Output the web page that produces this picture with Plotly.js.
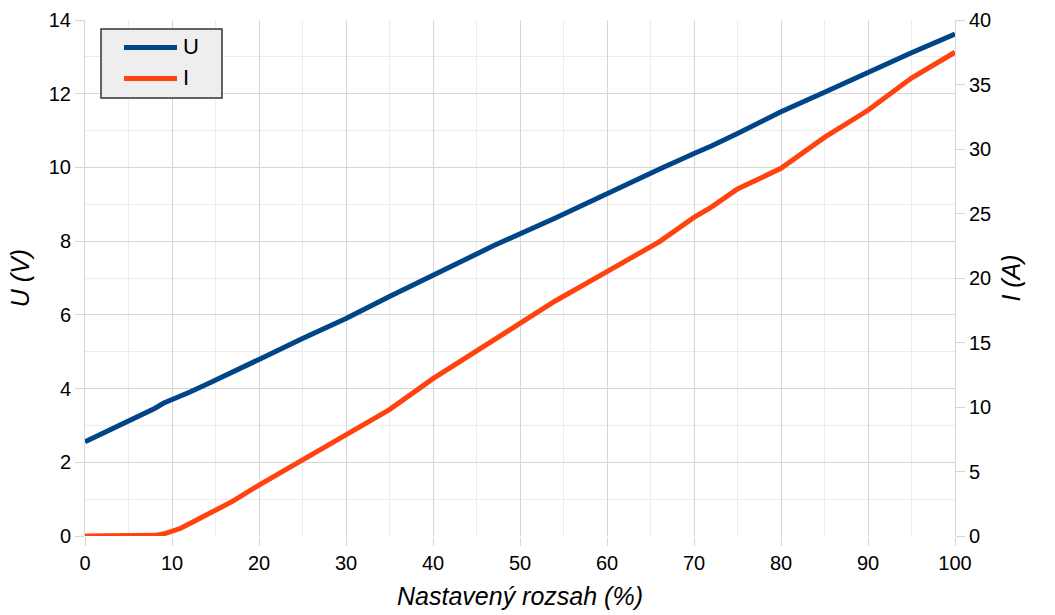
<!DOCTYPE html>
<html>
<head>
<meta charset="utf-8">
<script src="https://cdn.plot.ly/plotly-3.0.1.min.js"></script>
<style>
html,body{margin:0;padding:0;background:#fff;}
#chart{width:1055px;height:615px;}
</style>
</head>
<body>
<div id="chart"></div>
<script>
const rozsah = [0, 5, 8, 9, 10, 11, 12, 14, 17, 20, 25, 30, 35, 40, 47, 54, 60, 66, 70, 72, 75, 80, 85, 90, 95, 100];
const napetiU = [2.56, 3.10, 3.46, 3.60, 3.70, 3.78, 3.90, 4.12, 4.44, 4.79, 5.36, 5.90, 6.50, 7.08, 7.88, 8.62, 9.30, 9.95, 10.38, 10.58, 10.92, 11.51, 12.04, 12.58, 13.11, 13.62];
const proudI = [0, 0.02, 0.05, 0.15, 0.35, 0.6, 0.95, 1.65, 2.7, 3.95, 5.9, 7.95, 9.8, 12.2, 15.2, 18.2, 20.5, 22.8, 24.7, 25.5, 26.9, 28.5, 30.9, 33.0, 35.5, 37.5];
const seriesNames = ['U', 'I'];
const seriesColors = ['#004586', '#ff420e'];
const leftTicks = [0, 2, 4, 6, 8, 10, 12, 14];
const rightTicks = [0, 5, 10, 15, 20, 25, 30, 35, 40];
const xTicks = [0, 10, 20, 30, 40, 50, 60, 70, 80, 90, 100];

const traces = [
  {x: rozsah, y: napetiU, name: seriesNames[0], type: 'scatter', mode: 'lines',
   line: {color: seriesColors[0], width: 5}, yaxis: 'y'},
  {x: rozsah, y: proudI, name: seriesNames[1], type: 'scatter', mode: 'lines',
   line: {color: seriesColors[1], width: 5}, yaxis: 'y2'}
];

// plot area in pixels: x 85..955, y 20..536
const px = v => (v - 85) / 870;
const py = v => (536 - v) / 516;

const FF = 'Liberation Sans, Arial, sans-serif';
const font = {family: FF, size: 20, color: '#000'};
const legendFont = {family: FF, size: 22, color: '#000'};
const titleFont = {family: FF, size: 25, color: '#000', style: 'italic'};

const shapes = [
  {type: 'rect', xref: 'paper', yref: 'paper', x0: px(101), x1: px(222), y0: py(98), y1: py(29),
   fillcolor: '#eeeeee', line: {color: '#333333', width: 1.5}, layer: 'above'},
  {type: 'line', xref: 'paper', yref: 'paper', x0: px(124), x1: px(177), y0: py(47.5), y1: py(47.5),
   line: {color: seriesColors[0], width: 5}, layer: 'above'},
  {type: 'line', xref: 'paper', yref: 'paper', x0: px(124), x1: px(177), y0: py(78.5), y1: py(78.5),
   line: {color: seriesColors[1], width: 5}, layer: 'above'}
];
const annotations = [
  {xref: 'paper', yref: 'paper', x: px(181), y: py(47), xanchor: 'left', yanchor: 'middle',
   text: seriesNames[0], showarrow: false, font: legendFont},
  {xref: 'paper', yref: 'paper', x: px(181), y: py(78), xanchor: 'left', yanchor: 'middle',
   text: seriesNames[1], showarrow: false, font: legendFont}
];

const layout = {
  width: 1055, height: 615,
  margin: {l: 85, r: 100, t: 20, b: 79},
  paper_bgcolor: '#fff', plot_bgcolor: '#fff',
  font: font,
  showlegend: false,
  shapes: shapes,
  annotations: annotations,
  xaxis: {
    range: [0, 100], tickvals: xTicks, ticktext: xTicks.map(String),
    showgrid: true, gridcolor: '#d6d6d6', gridwidth: 1,
    zeroline: false, showline: false,
    ticks: 'outside', ticklen: 9, tickcolor: '#d6d6d6',
    minor: {dtick: 5, tick0: 0, showgrid: true, gridcolor: '#ececec', gridwidth: 1, ticks: ''},
    title: {text: 'Nastavený rozsah (%)', font: titleFont, standoff: 14},
    tickfont: font
  },
  yaxis: {
    range: [0, 14], tickvals: leftTicks, ticktext: leftTicks.map(String),
    showgrid: true, gridcolor: '#d6d6d6', gridwidth: 1,
    zeroline: false, showline: true, linecolor: '#d6d6d6', linewidth: 1,
    ticks: 'outside', ticklen: 9, tickcolor: '#d6d6d6',
    minor: {dtick: 1, tick0: 0, showgrid: true, gridcolor: '#ececec', gridwidth: 1, ticks: ''},
    title: {text: 'U (V)', font: titleFont, standoff: 12},
    tickfont: font
  },
  yaxis2: {
    range: [0, 40], tickvals: rightTicks, ticktext: rightTicks.map(String),
    overlaying: 'y', side: 'right',
    showgrid: false, zeroline: false, showline: true, linecolor: '#d6d6d6', linewidth: 1,
    ticks: 'outside', ticklen: 9, tickcolor: '#d6d6d6',
    title: {text: 'I (A)', font: titleFont, standoff: 12},
    tickfont: font
  }
};

Plotly.newPlot('chart', traces, layout, {displayModeBar: false, staticPlot: true});
</script>
</body>
</html>
